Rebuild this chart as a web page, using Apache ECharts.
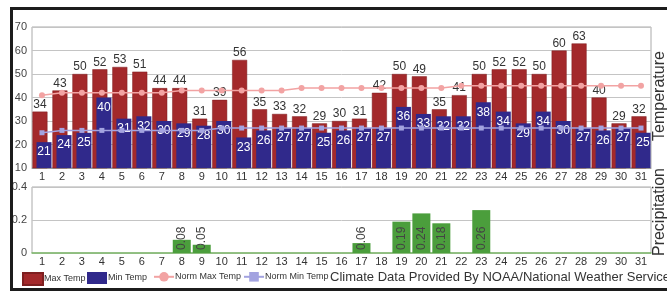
<!DOCTYPE html>
<html>
<head>
<meta charset="utf-8">
<script src="https://cdn.jsdelivr.net/npm/echarts@6/dist/echarts.min.js"></script>
<style>
  html, body { margin: 0; padding: 0; background: #fff; }
  #wrap { position: relative; width: 667px; height: 291px; overflow: hidden; }
  #main { width: 667px; height: 291px; }
  #frame {
    position: absolute; left: 10px; top: 7px; width: 720px; height: 284px;
    box-sizing: border-box; pointer-events: none;
    border-top: 3px solid #1c1c1c; border-left: 3px solid #1c1c1c; border-bottom: 3px solid #1c1c1c;
  }
</style>
</head>
<body>
<div id="wrap">
  <div id="main"></div>
  <div id="frame"></div>
</div>
<script>
// days of the month
const days = ['1','2','3','4','5','6','7','8','9','10','11','12','13','14','15','16',
  '17','18','19','20','21','22','23','24','25','26','27','28','29','30','31']
const maxTemp = [34,43,50,52,53,51,44,44,31,39,56,35,33,32,29,30,31,42,50,49,35,41,50,52,52,50,60,63,40,29,32]
const minTemp = [21,24,25,40,31,32,30,29,28,30,23,26,27,27,25,26,27,27,36,33,32,32,38,34,29,34,30,27,26,27,25]
const normMax = [41,42,42,42,42,42,42,43,43,43,43,43,43,44,44,44,44,44,44,44,44,45,45,45,45,45,45,45,45,45,45]
const normMin = [25,26,26,26,26,26,26,26,26,27,27,27,27,27,27,27,27,27,27,27,27,27,27,27,27,27,27,27,27,27,27]
const precip = [0,0,0,0,0,0,0,0.08,0.05,0,0,0,0,0,0,0,0.06,0,0.19,0.24,0.18,0,0.26,0,0,0,0,0,0,0,0]

const legendNames = ['Max Temp', 'Min Temp', 'Norm Max Temp', 'Norm Min Temp']
const legendLeft = [22, 87, 153, 243]

const font = 'Liberation Sans, Arial, sans-serif'

let myChart = echarts.init(document.getElementById('main'))

// one legend block per item so each sits where the original put it
const legends = legendNames.map((n, i) => ({
  left: legendLeft[i], top: 272, padding: 0,
  itemWidth: 20, itemHeight: 12,
  textStyle: { fontSize: 9, color: '#333', padding: [0, 0, 0, -4] },
  data: [i < 2 ? { name: n, icon: 'rect' } : n]
}))

let option = {
  animation: false,
  textStyle: { fontFamily: font },
  title: {
    text: 'Climate Data Provided By NOAA/National Weather Service',
    left: 330, top: 271, padding: 0,
    textStyle: { fontSize: 13, fontWeight: 'normal', color: '#333', fontFamily: font }
  },
  legend: legends,
  graphic: [
    { type: 'text', x: 660, y: 96, rotation: Math.PI / 2,
      style: { text: 'Temperature', fontSize: 16, fill: '#333', align: 'center', verticalAlign: 'middle', fontFamily: font } },
    { type: 'text', x: 660, y: 212, rotation: Math.PI / 2,
      style: { text: 'Precipitation', fontSize: 16, fill: '#333', align: 'center', verticalAlign: 'middle', fontFamily: font } }
  ],
  grid: [
    { left: 32, right: 16, top: 27, height: 141, show: true, borderColor: '#aaa', borderWidth: 1 },
    { left: 32, right: 16, top: 187, height: 66, show: true, borderColor: '#aaa', borderWidth: 1 }
  ],
  xAxis: [
    {
      gridIndex: 0, type: 'category', data: days,
      axisLine: { lineStyle: { color: '#999' } },
      axisTick: { show: false },
      axisLabel: { interval: 0, fontSize: 11, color: '#333', margin: 3 }
    },
    {
      gridIndex: 1, type: 'category', data: days,
      axisLine: { lineStyle: { color: '#7dbb6a', width: 1.5 } },
      axisTick: { show: false },
      axisLabel: { interval: 0, fontSize: 11, color: '#333', margin: 3 }
    }
  ],
  yAxis: [
    {
      gridIndex: 0, min: 10, max: 70, interval: 10,
      axisLine: { show: false }, axisTick: { show: false },
      axisLabel: { fontSize: 11, color: '#444', margin: 5 },
      splitLine: { lineStyle: { color: '#c4c4c4' } }
    },
    {
      gridIndex: 1, min: 0, max: 0.4, interval: 0.2,
      axisLine: { show: false }, axisTick: { show: false },
      axisLabel: { fontSize: 11, color: '#444', margin: 5 },
      splitLine: { lineStyle: { color: '#c4c4c4' } }
    }
  ],
  series: [
    {
      name: 'Max Temp', type: 'bar', data: maxTemp,
      xAxisIndex: 0, yAxisIndex: 0,
      barWidth: 15, barGap: '-73%',
      itemStyle: { color: '#a3292b', borderColor: '#7e1f20', borderWidth: 0.5 },
      label: { show: true, position: 'top', distance: 1, fontSize: 12, color: '#333' }
    },
    {
      name: 'Min Temp', type: 'bar', data: minTemp,
      xAxisIndex: 0, yAxisIndex: 0,
      barWidth: 15, barGap: '-73%',
      itemStyle: { color: '#30298b' },
      label: { show: true, position: 'insideTop', distance: 4, fontSize: 12, color: '#fff' }
    },
    {
      name: 'Norm Max Temp', type: 'line', data: normMax,
      xAxisIndex: 0, yAxisIndex: 0,
      symbol: 'circle', symbolSize: 6,
      lineStyle: { color: '#f2a3a3', width: 1.5 },
      itemStyle: { color: '#f2a3a3' }, z: 5
    },
    {
      name: 'Norm Min Temp', type: 'line', data: normMin,
      xAxisIndex: 0, yAxisIndex: 0,
      symbol: 'rect', symbolSize: 5,
      lineStyle: { color: '#a3a3e0', width: 1.5 },
      itemStyle: { color: '#a3a3e0' }, z: 5
    },
    {
      name: 'Precipitation', type: 'bar', data: precip,
      xAxisIndex: 1, yAxisIndex: 1,
      barWidth: 18,
      itemStyle: { color: '#4b9e3c' },
      label: {
        show: true, position: 'insideBottom', rotate: 90, align: 'left', verticalAlign: 'middle',
        distance: 3, fontSize: 12, color: '#444',
        formatter: (p) => p.value > 0 ? p.value.toFixed(2) : ''
      }
    }
  ]
}

myChart.setOption(option)
</script>
</body>
</html>
